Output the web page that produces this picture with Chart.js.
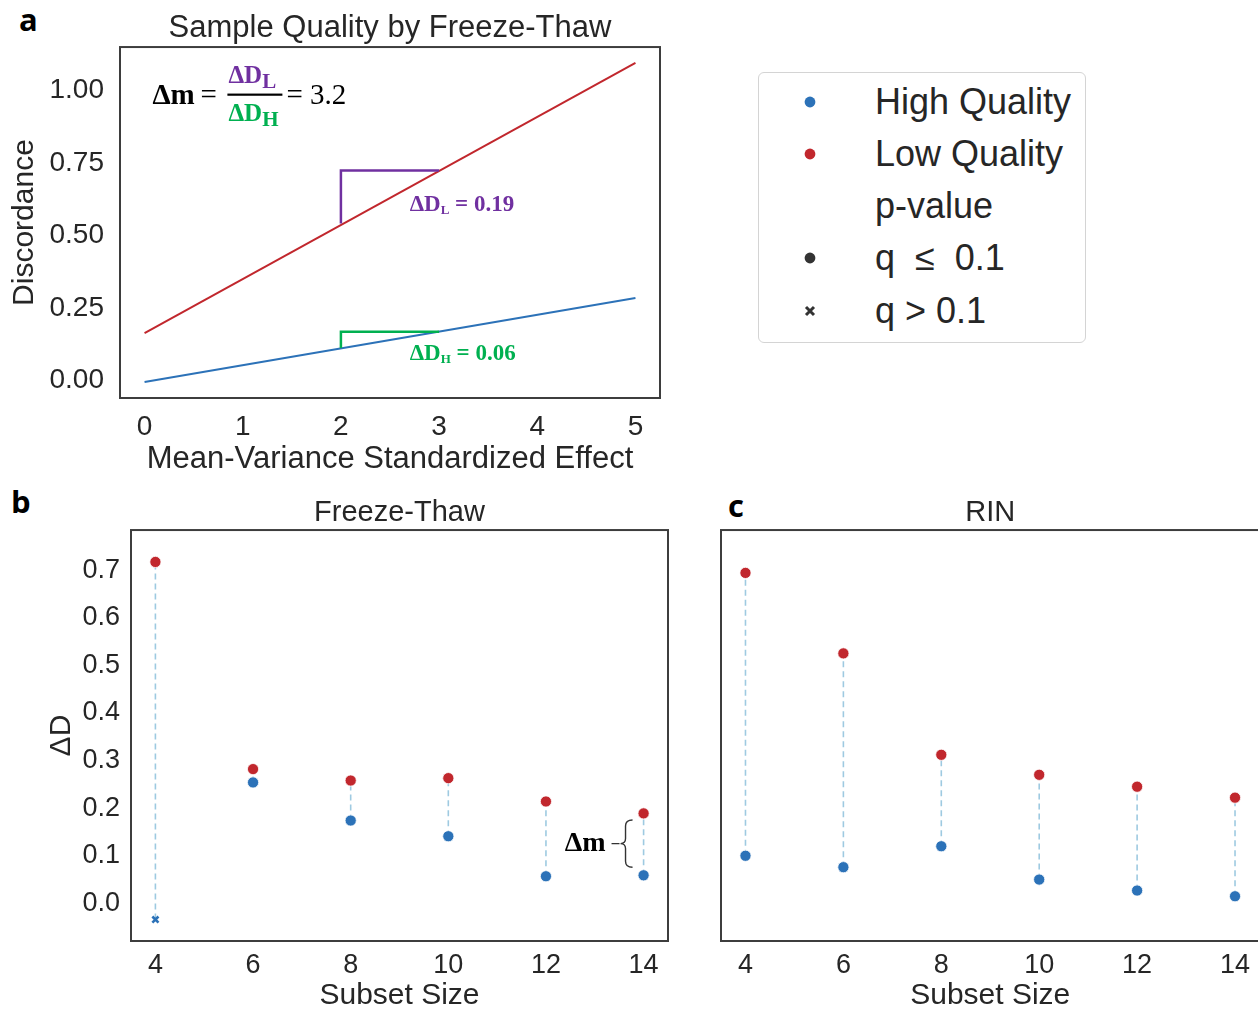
<!DOCTYPE html>
<html>
<head>
<meta charset="utf-8">
<title>Sample quality and discordance</title>
<script src="https://cdn.jsdelivr.net/npm/chart.js@4.4.1/dist/chart.umd.min.js"></script>
<style>
  html, body { margin: 0; padding: 0; background: #fff; overflow: hidden; }
  body { width: 1258px; height: 1015px; position: relative; font-family: "Liberation Sans", Arial, sans-serif; color: #262626; }
  canvas { position: absolute; }
  .tag { position: absolute; font-family: "Open Sans", sans-serif; font-weight: 700; font-size: 31px; line-height: 1; color: #000; }
  #legend { position: absolute; left: 758px; top: 72px; width: 328px; height: 271px; box-sizing: border-box;
            border: 1px solid #d4d4d4; border-radius: 6px; }
  .row { position: absolute; left: 0; width: 100%; height: 52px; line-height: 52px; font-size: 36px; }
  .row .mk { position: absolute; left: 51px; top: 26px; }
  .row .txt { position: absolute; left: 116px; top: 0; white-space: pre; }
</style>
</head>
<body>
<div class="tag" style="left:19px;top:4px">a</div>
<div class="tag" style="left:11px;top:486px">b</div>
<div class="tag" style="left:728px;top:490px">c</div>

<canvas id="panelA" width="700" height="480" style="left:0;top:0"></canvas>
<canvas id="panelB" width="700" height="535" style="left:0;top:480px"></canvas>
<canvas id="panelC" width="580" height="535" style="left:700px;top:480px"></canvas>
<div id="legend"></div>

<script>
// ── colours ───────────────────────────────────────────
const BLUE   = "#2c72b8";
const RED    = "#c1272d";
const DASH   = "#9ecae1";
const PURPLE = "#7030a0";
const GREEN  = "#00b050";
const INK    = "#262626";
const SERIF  = "'Liberation Serif', 'Times New Roman', serif";

// ── panel a: fitted discordance vs standardized effect ─
const effectX          = [0, 5];
const lowQualityLine   = [0.163, 1.096];
const highQualityLine  = [-0.006, 0.284];
const slopeLowX        = [2, 2, 3];
const slopeLowY        = [0.542, 0.725, 0.725];
const slopeHighX       = [2, 2, 3];
const slopeHighY       = [0.112, 0.168, 0.168];
const effectTicks      = [0, 1, 2, 3, 4, 5];
const discordanceTicks = [0, 0.25, 0.5, 0.75, 1.0];

// ── panels b, c: ΔD by subset size ────────────────────
const subsetSizes   = [4, 6, 8, 10, 12, 14];
const ftHigh        = [-0.034, 0.254, 0.174, 0.141, 0.057, 0.059];
const ftLow         = [0.717, 0.282, 0.258, 0.263, 0.214, 0.189];
const ftHighSig     = [false, true, true, true, true, true];
const rinHigh       = [0.100, 0.076, 0.120, 0.050, 0.027, 0.015];
const rinLow        = [0.694, 0.525, 0.312, 0.270, 0.245, 0.222];
const deltaTicks    = [0, 0.1, 0.2, 0.3, 0.4, 0.5, 0.6, 0.7];

const legendItems = [
    { label: "High Quality", marker: "dot",   color: BLUE },
    { label: "Low Quality",  marker: "dot",   color: RED },
    { label: "p-value",      marker: null },
    { label: "q  \u2264  0.1", marker: "dot", color: "#333" },
    { label: "q > 0.1",      marker: "cross", color: "#333" },
];

Chart.defaults.font.family = "'Liberation Sans', Arial, sans-serif";
Chart.defaults.color = INK;
Chart.defaults.animation = false;

const xy = (xs, ys) => xs.map((x, i) => ({ x, y: ys[i] }));
const fixedTicks = list => scale => { scale.ticks = list.map(v => ({ value: v })); };

// box round the plot area
const frame = {
    id: "frame",
    afterDatasetsDraw(chart) {
        const { ctx, chartArea: a } = chart;
        ctx.save();
        ctx.strokeStyle = "#3d3d3d";
        ctx.lineWidth = 2;
        ctx.strokeRect(a.left, a.top, a.right - a.left, a.bottom - a.top);
        ctx.restore();
    }
};

// ΔD with a subscript, optional trailing text; (x, y) = left / middle
function deltaD(ctx, x, y, sub, tail, color, size, subScale, subDrop) {
    ctx.fillStyle = color;
    ctx.textAlign = "left";
    ctx.textBaseline = "middle";
    ctx.font = `bold ${size}px ${SERIF}`;
    ctx.fillText("\u0394D", x, y);
    let cx = x + ctx.measureText("\u0394D").width;
    ctx.font = `bold ${Math.round(size * subScale)}px ${SERIF}`;
    ctx.fillText(sub, cx, y + subDrop);
    cx += ctx.measureText(sub).width;
    if (tail) {
        ctx.font = `bold ${size}px ${SERIF}`;
        ctx.fillText(tail, cx, y);
        cx += ctx.measureText(tail).width;
    }
    return cx;
}

const slopeNotes = {
    id: "slopeNotes",
    afterDatasetsDraw(chart) {
        const { ctx, scales: { x, y } } = chart;
        ctx.save();
        // Δm = ΔD_L / ΔD_H = 3.2
        const fx = x.getPixelForValue(0.08), fy = y.getPixelForValue(0.98);
        ctx.fillStyle = "#000";
        ctx.textBaseline = "middle";
        ctx.font = `bold 29px ${SERIF}`;
        ctx.fillText("\u0394m", fx, fy);
        ctx.font = `29px ${SERIF}`;
        ctx.fillText("=", fx + 48, fy);
        deltaD(ctx, fx + 76, fy - 20, "L", null, PURPLE, 25, 0.85, 6);
        deltaD(ctx, fx + 76, fy + 18, "H", null, GREEN, 25, 0.85, 6);
        ctx.fillStyle = "#000";
        ctx.fillRect(fx + 75, fy - 3, 55, 2.2);
        ctx.font = `29px ${SERIF}`;
        ctx.fillText("= 3.2", fx + 134, fy);

        deltaD(ctx, x.getPixelForValue(2.7), y.getPixelForValue(0.607), "L", " = 0.19", PURPLE, 23, 0.55, 6);
        deltaD(ctx, x.getPixelForValue(2.7), y.getPixelForValue(0.092), "H", " = 0.06", GREEN, 23, 0.55, 6);
        ctx.restore();
    }
};

// curly brace marking the gap at the largest subset
const gapBrace = {
    id: "gapBrace",
    afterDatasetsDraw(chart) {
        const { ctx, scales: { x, y } } = chart;
        const bx = x.getPixelForValue(13.63);
        const top = y.getPixelForValue(0.175), bot = y.getPixelForValue(0.076);
        const mid = (top + bot) / 2;
        ctx.save();
        ctx.strokeStyle = "#333";
        ctx.lineWidth = 1.4;
        ctx.beginPath();
        ctx.moveTo(bx + 7, top);
        ctx.quadraticCurveTo(bx, top, bx, top + 6);
        ctx.lineTo(bx, mid - 5);
        ctx.quadraticCurveTo(bx, mid, bx - 5, mid);
        ctx.quadraticCurveTo(bx, mid, bx, mid + 5);
        ctx.lineTo(bx, bot - 6);
        ctx.quadraticCurveTo(bx, bot, bx + 7, bot);
        ctx.moveTo(bx - 14, mid);
        ctx.lineTo(bx - 6, mid);
        ctx.stroke();
        ctx.fillStyle = "#000";
        ctx.font = `bold 28px ${SERIF}`;
        ctx.textAlign = "right";
        ctx.textBaseline = "middle";
        ctx.fillText("\u0394m", bx - 20, mid);
        ctx.restore();
    }
};

const hidden = { display: false, drawTicks: false, tickLength: 0 };

// ── panel a ───────────────────────────────────────────
new Chart(document.getElementById("panelA"), {
    type: "scatter",
    data: {
        datasets: [
            { data: xy(slopeLowX, slopeLowY),   showLine: true, borderColor: PURPLE, borderWidth: 2.5, pointRadius: 0 },
            { data: xy(slopeHighX, slopeHighY), showLine: true, borderColor: GREEN,  borderWidth: 2.5, pointRadius: 0 },
            { data: xy(effectX, lowQualityLine),  showLine: true, borderColor: RED,  borderWidth: 2, pointRadius: 0 },
            { data: xy(effectX, highQualityLine), showLine: true, borderColor: BLUE, borderWidth: 2, pointRadius: 0 },
        ]
    },
    options: {
        responsive: false,
        layout: { padding: { left: 0, right: 40, top: 0, bottom: 0 } },
        plugins: {
            legend: { display: false },
            tooltip: { enabled: false },
            title: {
                display: true, fullSize: false, text: "Sample Quality by Freeze-Thaw", color: INK,
                font: { size: 31, weight: "normal", lineHeight: 1.15 },
                padding: { top: 10.2, bottom: 1.2 }
            }
        },
        scales: {
            x: {
                type: "linear", min: -0.25, max: 5.25,
                grid: hidden, border: { display: false },
                afterBuildTicks: fixedTicks(effectTicks),
                afterFit: s => { s.height = 82; },
                ticks: { font: { size: 28 }, padding: 12, color: INK },
                title: { display: true, text: "Mean-Variance Standardized Effect", color: INK,
                         font: { size: 31 }, padding: { top: 0, bottom: 2 } }
            },
            y: {
                min: -0.061, max: 1.151,
                grid: hidden, border: { display: false },
                afterBuildTicks: fixedTicks(discordanceTicks),
                afterFit: s => { s.width = 120; },
                ticks: { font: { size: 28 }, padding: 16, color: INK, callback: v => v.toFixed(2) },
                title: { display: true, text: "Discordance", color: INK,
                         font: { size: 30 }, padding: { top: 7, bottom: 0 } }
            }
        }
    },
    plugins: [frame, slopeNotes]
});

// ── panels b and c share one layout ───────────────────
function gapChart(canvasId, title, high, low, highSig, withAxis, pad, extra) {
    const connectors = subsetSizes.flatMap((x, i) => [{ x, y: high[i] }, { x, y: low[i] }, { x, y: null }]);
    return new Chart(document.getElementById(canvasId), {
        type: "scatter",
        data: {
            datasets: [
                { data: connectors, showLine: true, spanGaps: false, borderColor: DASH, borderWidth: 1.6,
                  borderDash: [6, 4], pointRadius: 0, order: 3 },
                { data: xy(subsetSizes, low), backgroundColor: RED, borderColor: "#fff", borderWidth: 0.8,
                  pointRadius: 5.6, order: 1 },
                { data: xy(subsetSizes, high), backgroundColor: BLUE,
                  borderColor: highSig.map(s => s ? "#fff" : BLUE),
                  borderWidth: highSig.map(s => s ? 0.8 : 2.6),
                  pointStyle: highSig.map(s => s ? "circle" : "crossRot"),
                  pointRadius: highSig.map(s => s ? 5.6 : 4.3), order: 1 },
            ]
        },
        options: {
            responsive: false,
            layout: { padding: pad },
            plugins: {
                legend: { display: false },
                tooltip: { enabled: false },
                title: {
                    display: true, fullSize: false, text: title, color: INK,
                    font: { size: 29, weight: "normal", lineHeight: 1.15 },
                    padding: { top: 16.3, bottom: 0.4 }
                }
            },
            scales: {
                x: {
                    type: "linear", min: 3.5, max: 14.5,
                    grid: hidden, border: { display: false },
                    afterBuildTicks: fixedTicks(subsetSizes),
                    afterFit: s => { s.height = 74; },
                    ticks: { font: { size: 27 }, padding: 8, color: INK },
                    title: { display: true, text: "Subset Size", color: INK,
                             font: { size: 30 }, padding: { top: 0, bottom: 1 } }
                },
                y: {
                    display: withAxis,
                    min: -0.079, max: 0.784,
                    grid: hidden, border: { display: false },
                    afterBuildTicks: fixedTicks(deltaTicks),
                    afterFit: s => { s.width = withAxis ? 131 : 0; },
                    ticks: { font: { size: 27 }, padding: 11, color: INK, callback: v => v.toFixed(1) },
                    title: { display: true, text: "\u0394D", color: INK,
                             font: { size: 30 }, padding: { top: 44, bottom: 0 } }
                }
            }
        },
        plugins: [frame].concat(extra)
    });
}

gapChart("panelB", "Freeze-Thaw", ftHigh, ftLow, ftHighSig, true,
         { left: 0, right: 32, top: 0, bottom: 0 }, [gapBrace]);
gapChart("panelC", "RIN", rinHigh, rinLow, rinHigh.map(() => true), false,
         { left: 21, right: 20.5, top: 0, bottom: 0 }, []);

// ── legend ────────────────────────────────────────────
const legend = document.getElementById("legend");
legendItems.forEach((item, i) => {
    const row = document.createElement("div");
    row.className = "row";
    row.style.top = (2.5 + i * 52.3) + "px";
    if (item.marker === "dot") {
        row.insertAdjacentHTML("beforeend",
            `<svg class="mk" width="14" height="14" style="margin:-7px 0 0 -7px"><circle cx="7" cy="7" r="5.4" fill="${item.color}"/></svg>`);
    } else if (item.marker === "cross") {
        row.insertAdjacentHTML("beforeend",
            `<svg class="mk" width="14" height="14" style="margin:-7px 0 0 -7px"><path d="M3 3L11 11M11 3L3 11" stroke="${item.color}" stroke-width="3"/></svg>`);
    }
    const txt = document.createElement("span");
    txt.className = "txt";
    txt.textContent = item.label;
    row.appendChild(txt);
    legend.appendChild(row);
});
</script>
</body>
</html>
